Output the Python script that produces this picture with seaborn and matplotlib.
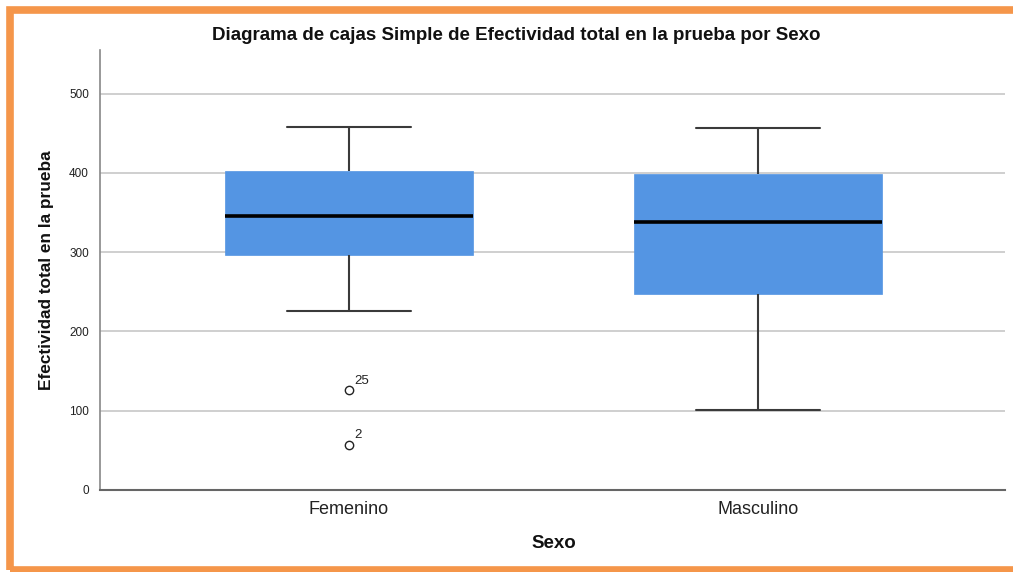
import matplotlib
matplotlib.use("Agg")
import matplotlib.pyplot as plt
import seaborn as sns
import pandas as pd
from matplotlib.patches import Rectangle

# ---- data (representative observations matching the box statistics) ----
categories = ["Femenino", "Masculino"]
femenino_values = [57, 126, 226, 297, 310, 330, 346, 360, 385, 403, 420, 440, 458]
masculino_values = [101, 180, 247, 300, 337.5, 370, 399, 430, 457]
outlier_values = [126, 57]
outlier_labels = ["25", "2"]
y_ticks = [0, 100, 200, 300, 400, 500]

title = "Diagrama de cajas Simple de Efectividad total en la prueba por Sexo"
y_label = "Efectividad total en la prueba"
x_label = "Sexo"

df = pd.DataFrame({
    "Sexo": [categories[0]] * len(femenino_values) + [categories[1]] * len(masculino_values),
    "Efectividad": femenino_values + masculino_values,
})

sns.set_theme(style="white")
plt.rcParams["font.family"] = ["Liberation Sans", "DejaVu Sans"]

W, H = 1013, 572
fig = plt.figure(figsize=(W / 100, H / 100), dpi=100)
ax = fig.add_axes([100 / W, 1 - 490 / H, (1005 - 100) / W, (490 - 50) / H])

box_color = "#5495E3"
sns.boxplot(
    data=df, x="Sexo", y="Efectividad", order=categories, ax=ax,
    color=box_color, width=0.606, whis=1.5, saturation=1,
    boxprops=dict(facecolor=box_color, edgecolor=box_color, linewidth=0.5),
    medianprops=dict(color="black", linewidth=2.6),
    whiskerprops=dict(color="#3a3a3a", linewidth=1.5),
    capprops=dict(color="#3a3a3a", linewidth=1.5),
    capwidths=0.303,
    flierprops=dict(marker="o", markersize=6, markerfacecolor="white",
                    markeredgecolor="#222222", markeredgewidth=1.0),
)

for val, lab in zip(outlier_values, outlier_labels):
    ax.annotate(lab, xy=(0, val), xytext=(3.5, 2.5), textcoords="offset points",
                fontsize=9.5, color="#222222", ha="left", va="bottom")

ax.set_xlim(-0.609, 1.604)
ax.set_ylim(0, 555)
ax.set_yticks(y_ticks)
ax.set_yticklabels([str(t) for t in y_ticks], fontsize=8.5, color="#222222")
ax.tick_params(axis="y", length=0, pad=8)
ax.tick_params(axis="x", length=0, pad=8, labelsize=13, labelcolor="#222222")
ax.grid(axis="y", color="#cccccc", linewidth=1.3)
ax.set_axisbelow(True)
for s in ["top", "right"]:
    ax.spines[s].set_visible(False)
ax.spines["left"].set_color("#888888")
ax.spines["bottom"].set_color("#666666")
ax.spines["left"].set_linewidth(1.2)
ax.spines["bottom"].set_linewidth(1.5)

ax.set_xlabel("")
ax.set_ylabel("")
fig.text(554 / W, 1 - 543 / H, x_label, ha="center", va="center",
         fontsize=13.5, fontweight="bold", color="#111111")
fig.text(46 / W, 1 - 270 / H, y_label, ha="center", va="center", rotation=90,
         fontsize=12.4, fontweight="bold", color="#111111")
fig.text(516 / W, 1 - 36 / H, title, ha="center", va="center",
         fontsize=13.5, fontweight="bold", color="#111111")

# orange frame
fig.patches.append(Rectangle((10 / W, 1 - 570 / H), (W + 20) / W, (570 - 10) / H,
                             transform=fig.transFigure, fill=False,
                             edgecolor="#F5964A", linewidth=5.5, zorder=10))

fig.savefig("out.png", dpi=100, facecolor="white")
